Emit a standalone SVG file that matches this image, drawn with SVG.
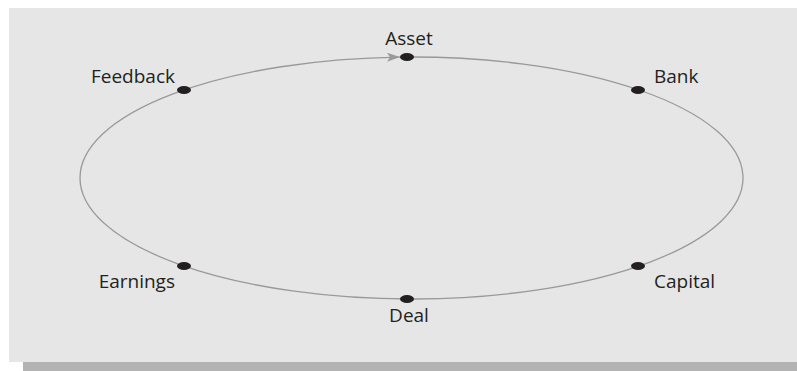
<svg xmlns="http://www.w3.org/2000/svg" width="797" height="371" viewBox="0 0 797 371">
  <style>
    .lbl { font-family: "Open Sans", "Liberation Sans", sans-serif; font-size: 19px; fill: #231f20; }
    .dot { fill: #231f20; }
    .ring { fill: none; stroke: #999999; stroke-width: 1.3; }
  </style>
  <defs>
    <marker id="arrow" markerUnits="userSpaceOnUse" markerWidth="13" markerHeight="9" viewBox="0 0 13 9" refX="13" refY="4.5" orient="auto">
      <path d="M0,0 L13,4.5 L0,9 L3,4.5 Z" fill="#999999"/>
    </marker>
  </defs>
  <rect x="0" y="0" width="797" height="371" fill="#ffffff"/>
  <rect x="23" y="17" width="790" height="354" fill="#b3b3b3"/>
  <rect x="9" y="8" width="790" height="354" fill="#e6e6e6"/>
  <g id="connectors">
    <path class="ring" d="M80,178 A331.5,121 0 0 1 400,57.07" marker-end="url(#arrow)"/>
    <path class="ring" d="M400,57.07 A331.5,121 0 1 1 80,178"/>
  </g>
  <g id="asset">
    <ellipse class="dot" cx="407" cy="57" rx="7" ry="4"/>
    <text class="lbl" x="409" y="45" text-anchor="middle">Asset</text>
  </g>
  <g id="bank">
    <ellipse class="dot" cx="638" cy="90" rx="7" ry="4"/>
    <text class="lbl" x="654" y="83">Bank</text>
  </g>
  <g id="capital">
    <ellipse class="dot" cx="638" cy="266" rx="7" ry="4"/>
    <text class="lbl" x="654" y="288">Capital</text>
  </g>
  <g id="deal">
    <ellipse class="dot" cx="407" cy="299" rx="7" ry="4"/>
    <text class="lbl" x="409" y="322" text-anchor="middle">Deal</text>
  </g>
  <g id="earnings">
    <ellipse class="dot" cx="184" cy="266" rx="7" ry="4"/>
    <text class="lbl" x="175" y="288" text-anchor="end">Earnings</text>
  </g>
  <g id="feedback">
    <ellipse class="dot" cx="184" cy="90" rx="7" ry="4"/>
    <text class="lbl" x="175" y="83" text-anchor="end">Feedback</text>
  </g>
</svg>
